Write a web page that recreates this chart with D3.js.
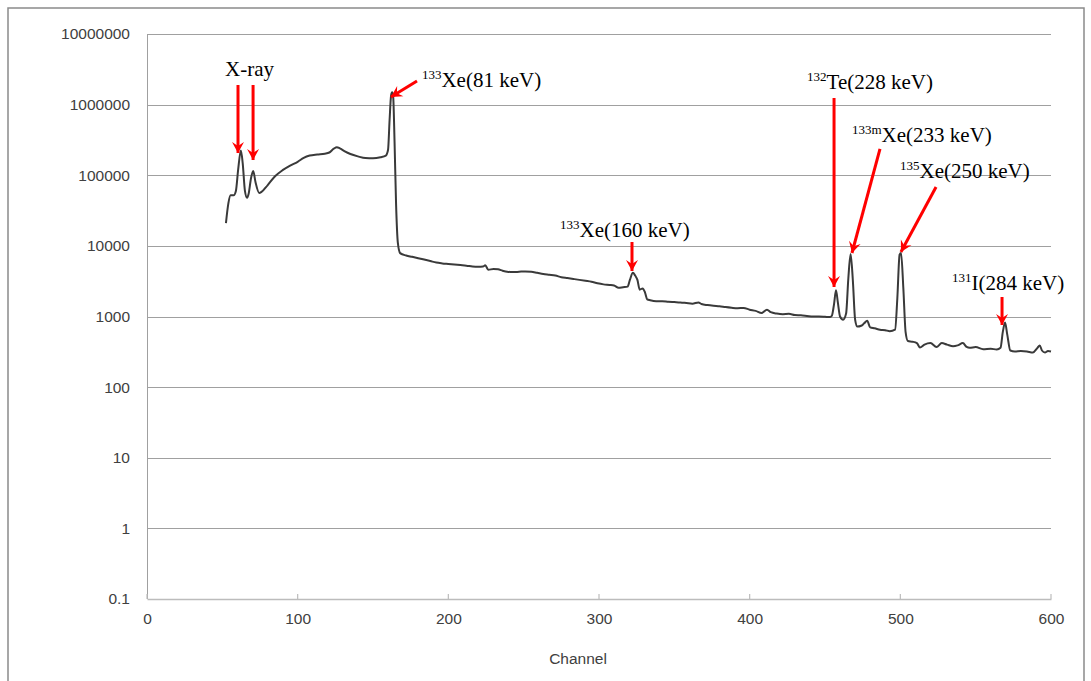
<!DOCTYPE html>
<html>
<head>
<meta charset="utf-8">
<script src="https://cdn.jsdelivr.net/npm/d3@7"></script>
<style>
  html, body { margin: 0; padding: 0; background: #fff; }
  svg { display: block; }
</style>
</head>
<body>
<svg id="chart" width="1091" height="681"></svg>
<script>
// ---- Data ----
const channels = [52.4,54,55.5,57.5,59,60.5,62.3,63.5,65,66.4,67.5,69,70.5,72,74.5,76,80,85,90,95,100,104,108,113,118,121,124,126,128,131,135,140,145,150,155,158.5,160,161,162,162.7,163.4,164.3,165.3,166.5,168,172,176,180,184,188,192,196,200,204,208,212,216,220,223,224.5,226.5,230,233,236,239,243,247,251,255,259,263,267,271,275,279,283,287,291,295,299,303,307,310,313,316,319,320.5,322.5,324,325.5,327,329,330.5,332,334,338,342,346,350,354,358,362,366,368,372,376,380,384,388,392,396,400,404,408,411.5,414,418,422,426,430,434,438,442,446,450,453,454.5,456,457.3,458.5,460,462,464,465.5,467,468.5,470,471.5,474,476,478,480,483,486.5,490,493,496.5,498,499.5,500.5,502,503.5,505,508,511,513,516,520,524,527.5,531,535,538,541.5,544,546,550,555,560,564,566.5,568,569.5,571,573,576,580,584,588,591,592.5,594,596,598,600];
const counts = [21000,40000,52000,52000,60000,120000,225000,150000,60000,48000,55000,90000,115000,80000,56000,58000,72000,97000,118000,137000,155000,176000,190000,197000,202000,210000,238000,250000,240000,220000,200000,185000,175000,174000,180000,190000,230000,600000,1350000,1500000,1300000,300000,40000,11000,7900,7300,7000,6700,6400,6100,5800,5650,5550,5450,5350,5250,5100,5050,5100,5300,4600,4700,4650,4450,4300,4250,4300,4350,4300,4150,4000,3900,3800,3600,3500,3400,3300,3200,3100,2950,2850,2800,2750,2550,2600,2650,3300,4150,3800,3300,2400,2500,2200,1750,1700,1650,1650,1620,1600,1580,1550,1520,1580,1500,1450,1420,1400,1360,1330,1310,1320,1250,1200,1120,1250,1150,1100,1080,1090,1050,1040,1020,1000,1000,990,980,1020,1500,2350,1600,1000,900,1100,3500,7700,3200,900,720,740,800,870,700,680,650,640,620,650,1800,7500,7900,2500,600,450,440,420,365,400,420,370,420,400,380,390,420,370,360,370,345,350,340,360,600,820,550,330,320,325,320,310,360,390,330,310,325,320];

const yTicks = [0.1, 1, 10, 100, 1000, 10000, 100000, 1000000, 10000000];
const yTickLabels = ["0.1","1","10","100","1000","10000","100000","1000000","10000000"];
const xTicks = [0, 100, 200, 300, 400, 500, 600];
const xTitle = "Channel";

// annotations: label (sup + main), label anchor (channel, log10 value), arrow tail/tip (channel, log10 value)
const labelSup  = ["", "133", "133", "132", "133m", "135", "131"];
const labelMain = ["X-ray", "Xe(81 keV)", "Xe(160 keV)", "Te(228 keV)", "Xe(233 keV)", "Xe(250 keV)", "I(284 keV)"];
const labelCh   = [51.8, 182.5, 274.1, 438.1, 467.9, 499.8, 534.3];
const labelLog  = [6.405, 6.250, 4.126, 6.221, 5.471, 4.961, 3.375];

const arrowTailCh  = [60.4, 70.4, 179.2, 321.9, 456.0, 486.5, 523.7, 567.5];
const arrowTailLog = [6.278, 6.278, 6.335, 4.055, 6.094, 5.372, 4.834, 3.276];
const arrowTipCh   = [60.4, 70.4, 161.9, 321.9, 456.0, 467.9, 500.4, 567.5];
const arrowTipLog  = [5.315, 5.216, 6.108, 3.644, 3.418, 3.899, 3.913, 2.880];

// ---- Drawing ----
const svg = d3.select("#chart");
const x = d3.scaleLinear().domain([0, 600]).range([147, 1051]);
const y = d3.scaleLog().domain([0.1, 1e7]).range([599, 34]);

// outer frame
svg.append("rect").attr("x", 8).attr("y", 8).attr("width", 1076).attr("height", 700)
  .attr("fill", "none").attr("stroke", "#8a8a8a").attr("stroke-width", 1.5);

// gridlines
svg.append("g").selectAll("line").data(yTicks.slice(1)).join("line")
  .attr("x1", x(0)).attr("x2", x(600))
  .attr("y1", d => Math.round(y(d)) + 0.5).attr("y2", d => Math.round(y(d)) + 0.5)
  .attr("stroke", "#a0a0a0").attr("stroke-width", 1);

// left axis line
svg.append("line").attr("x1", x(0) + 0.5).attr("x2", x(0) + 0.5)
  .attr("y1", y(1e7)).attr("y2", y(0.1))
  .attr("stroke", "#a0a0a0").attr("stroke-width", 1);

// bottom axis
const xAxis = d3.axisBottom(x).tickValues(xTicks).tickSize(0).tickPadding(14).tickFormat(d3.format("d"));
const gx = svg.append("g").attr("transform", `translate(0,${y(0.1)})`).call(xAxis);
gx.select(".domain").attr("stroke", "#bcbcbc").attr("stroke-width", 1.6);
gx.selectAll(".tick text").attr("font-family", "Liberation Sans, Arial, sans-serif")
  .attr("font-size", "15.5px").attr("fill", "#404040");
// inside tick marks
svg.append("g").selectAll("line").data(xTicks).join("line")
  .attr("x1", d => x(d)).attr("x2", d => x(d))
  .attr("y1", y(0.1)).attr("y2", y(0.1) - 5)
  .attr("stroke", "#bcbcbc").attr("stroke-width", 1.2);

// y axis labels
const yAxis = d3.axisLeft(y).tickValues(yTicks).tickSize(0).tickPadding(17)
  .tickFormat((d, i) => yTickLabels[i]);
const gy = svg.append("g").attr("transform", `translate(${x(0)},0)`).call(yAxis);
gy.select(".domain").remove();
gy.selectAll(".tick text").attr("font-family", "Liberation Sans, Arial, sans-serif")
  .attr("font-size", "15.5px").attr("fill", "#404040");

// x title
svg.append("text").attr("x", 578).attr("y", 664).attr("text-anchor", "middle")
  .attr("font-family", "Liberation Sans, Arial, sans-serif").attr("font-size", "15.5px")
  .attr("fill", "#404040").text(xTitle);

// spectrum line
const pts = channels.map((c, i) => [c, counts[i]]);
const line = d3.line().x(d => x(d[0])).y(d => y(d[1])).curve(d3.curveMonotoneX);
svg.append("path").datum(pts).attr("d", line)
  .attr("fill", "none").attr("stroke", "#3a3a3a").attr("stroke-width", 2)
  .attr("stroke-linejoin", "round");

// arrow marker
svg.append("defs").append("marker")
  .attr("id", "ah").attr("viewBox", "-12 -7 14 14")
  .attr("refX", 0).attr("refY", 0)
  .attr("markerWidth", 14).attr("markerHeight", 14)
  .attr("markerUnits", "userSpaceOnUse").attr("orient", "auto")
  .append("path").attr("d", "M0,0 L-11,-6 L-7,0 L-11,6 Z").attr("fill", "#ff0000");

svg.append("g").selectAll("line").data(arrowTailCh).join("line")
  .attr("x1", (d, i) => x(arrowTailCh[i]))
  .attr("y1", (d, i) => y(Math.pow(10, arrowTailLog[i])))
  .attr("x2", (d, i) => x(arrowTipCh[i]))
  .attr("y2", (d, i) => y(Math.pow(10, arrowTipLog[i])))
  .attr("stroke", "#ff0000").attr("stroke-width", 3)
  .attr("marker-end", "url(#ah)");

// labels
const lbl = svg.append("g").selectAll("text").data(labelMain).join("text")
  .attr("x", (d, i) => x(labelCh[i]))
  .attr("y", (d, i) => y(Math.pow(10, labelLog[i])))
  .attr("font-family", "Liberation Serif, Times New Roman, serif")
  .attr("fill", "#000");
lbl.each(function(d, i) {
  const t = d3.select(this);
  if (labelSup[i]) {
    t.append("tspan").attr("font-size", "13px").attr("dy", -8).text(labelSup[i]);
    t.append("tspan").attr("font-size", "21px").attr("dy", 8).text(d);
  } else {
    t.append("tspan").attr("font-size", "21px").text(d);
  }
});
</script>
</body>
</html>
